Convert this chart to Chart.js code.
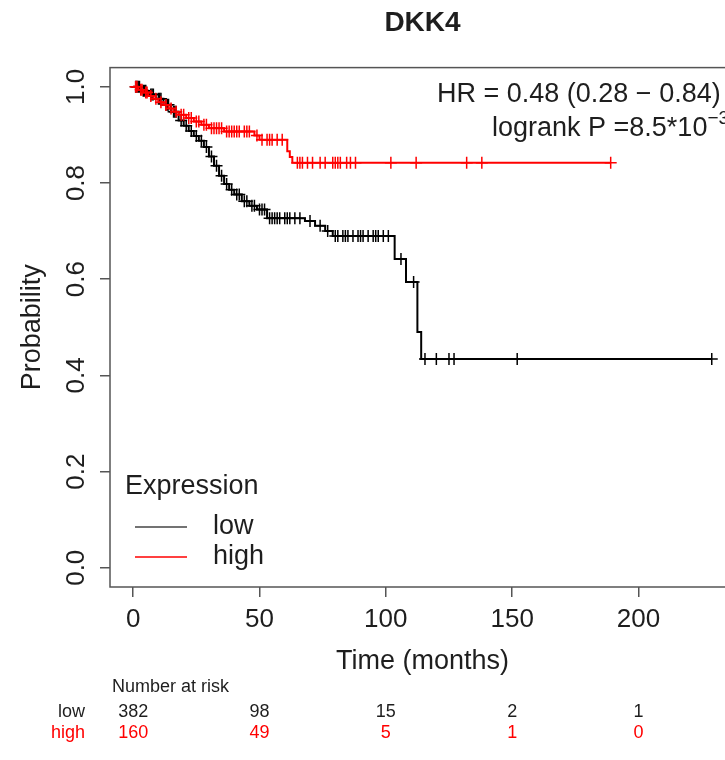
<!DOCTYPE html>
<html>
<head>
<meta charset="utf-8">
<script src="https://cdn.jsdelivr.net/npm/chart.js@4.4.0/dist/chart.umd.min.js"></script>
<style>
  html, body { margin: 0; padding: 0; background: #fff; overflow: hidden; }
  canvas { display: block; }
</style>
</head>
<body>
<canvas id="km" width="745" height="760"></canvas>
<script>

const TITULO = 'DKK4'
const xTicks = [0, 50, 100, 150, 200]
const yTicks = [0, 0.2, 0.4, 0.6, 0.8, 1.0]
const yTickLabels = ['0.0', '0.2', '0.4', '0.6', '0.8', '1.0']

// curva "low" (negra): tiempos de cada escalon y supervivencia
const lowTimes = [0, 3, 6, 9, 12, 15, 18, 20, 22, 24, 26, 28, 30, 32, 34, 36, 38, 40, 43, 46, 49, 53, 68, 72, 76, 79, 103.5, 108, 112.5, 114, 229]
const lowSurv = [1, 0.992, 0.984, 0.975, 0.963, 0.948, 0.93, 0.919, 0.908, 0.898, 0.888, 0.875, 0.855, 0.836, 0.815, 0.798, 0.786, 0.776, 0.762, 0.753, 0.745, 0.727, 0.721, 0.711, 0.700, 0.690, 0.642, 0.594, 0.490, 0.434, 0.434]

// curva "high" (roja)
const highTimes = [0, 2, 4, 6, 8, 10, 12, 14, 16, 18, 21, 24, 27, 30, 36, 48, 50, 61, 62, 63, 189]
const highSurv = [1, 0.994, 0.988, 0.981, 0.975, 0.968, 0.962, 0.955, 0.948, 0.942, 0.935, 0.928, 0.921, 0.914, 0.907, 0.899, 0.890, 0.866, 0.854, 0.842, 0.842]

// censurados (marcas +)
const lowCensTimes = [1, 1.5, 2, 2.5, 4, 4.5, 5, 7, 7.5, 8, 10, 10.5, 11, 13, 13.5, 14, 16, 16.5, 17, 19, 21, 23, 25, 27, 29, 31, 33, 35, 37, 39, 41, 42, 44, 45, 47, 48, 50, 51, 52, 54, 55, 56, 57, 58, 60, 61, 62, 64, 66, 70, 74, 77, 80, 81, 83, 84, 85, 87, 89, 90, 91, 93, 95, 96, 97, 99, 101, 106, 111, 115.5, 120, 125, 127, 152, 229]
const lowCensSurv = [1, 1, 1, 1, 0.992, 0.992, 0.992, 0.984, 0.984, 0.984, 0.975, 0.975, 0.975, 0.963, 0.963, 0.963, 0.948, 0.948, 0.948, 0.93, 0.919, 0.908, 0.898, 0.888, 0.875, 0.855, 0.836, 0.815, 0.798, 0.786, 0.776, 0.776, 0.762, 0.762, 0.753, 0.753, 0.745, 0.745, 0.745, 0.727, 0.727, 0.727, 0.727, 0.727, 0.727, 0.727, 0.727, 0.727, 0.727, 0.721, 0.711, 0.700, 0.690, 0.690, 0.690, 0.690, 0.690, 0.690, 0.690, 0.690, 0.690, 0.690, 0.690, 0.690, 0.690, 0.690, 0.690, 0.642, 0.594, 0.434, 0.434, 0.434, 0.434, 0.434, 0.434]

const highCensTimes = [1, 1.5, 3, 3.5, 5, 5.5, 7, 9, 11, 13, 15, 17, 19, 20, 22, 23, 25, 26, 28, 29, 31, 32, 33, 34, 35, 37, 38, 39, 40, 41, 42, 44, 45, 46, 49, 51, 53, 54, 55, 57, 59, 65, 66, 67, 69, 71, 74, 76, 79, 80, 81, 82, 84.5, 86, 88, 102, 112, 132, 138, 189]
const highCensSurv = [1, 1, 0.994, 0.994, 0.988, 0.988, 0.981, 0.975, 0.968, 0.962, 0.955, 0.948, 0.942, 0.942, 0.935, 0.935, 0.928, 0.928, 0.921, 0.921, 0.914, 0.914, 0.914, 0.914, 0.914, 0.907, 0.907, 0.907, 0.907, 0.907, 0.907, 0.907, 0.907, 0.907, 0.899, 0.890, 0.890, 0.890, 0.890, 0.890, 0.890, 0.842, 0.842, 0.842, 0.842, 0.842, 0.842, 0.842, 0.842, 0.842, 0.842, 0.842, 0.842, 0.842, 0.842, 0.842, 0.842, 0.842, 0.842, 0.842]

// numero en riesgo
const riskTimes = [0, 50, 100, 150, 200]
const riskLow = [382, 98, 15, 2, 1]
const riskHigh = [160, 49, 5, 1, 0]

const FUENTE = '"Liberation Sans", Arial, sans-serif'
const NEGRO = '#000000'
const ROJO = '#ff0000'
const TEXTO = '#1e1e1e'

const puntos = (xs, ys) => xs.map((t, i) => ({ x: t, y: ys[i] }))

const anotaciones = {
    id: 'anotaciones',
    afterDraw(chart) {
        const { ctx, chartArea: ca, scales: { x } } = chart
        ctx.save()

        // caja del grafico
        ctx.strokeStyle = '#555'
        ctx.lineWidth = 1.5
        ctx.strokeRect(ca.left, ca.top, ca.right - ca.left, ca.bottom - ca.top)

        ctx.fillStyle = TEXTO
        ctx.textBaseline = 'middle'
        ctx.textAlign = 'left'
        ctx.font = '27px ' + FUENTE
        ctx.fillText('HR = 0.48 (0.28 \u2212 0.84)', 437, 95)
        const base = 'logrank P =8.5*10'
        ctx.fillText(base, 492, 129)
        const w = ctx.measureText(base).width
        ctx.font = '19px ' + FUENTE
        ctx.fillText('\u22123', 492 + w, 119)

        // leyenda
        ctx.font = '27px ' + FUENTE
        ctx.fillText('Expression', 125, 487)
        ctx.fillText('low', 213, 527)
        ctx.fillText('high', 213, 557)
        ctx.lineWidth = 1.5
        ctx.strokeStyle = '#444'
        ctx.beginPath(); ctx.moveTo(135, 527); ctx.lineTo(187, 527); ctx.stroke()
        ctx.strokeStyle = ROJO
        ctx.beginPath(); ctx.moveTo(135, 557); ctx.lineTo(187, 557); ctx.stroke()

        // tabla numero en riesgo
        ctx.font = '18px ' + FUENTE
        ctx.fillStyle = TEXTO
        ctx.fillText('Number at risk', 112, 687)
        ctx.textAlign = 'right'
        ctx.fillText('low', 85, 712)
        ctx.fillStyle = ROJO
        ctx.fillText('high', 85, 733)
        ctx.textAlign = 'center'
        riskTimes.forEach((t, i) => {
            const px = x.getPixelForValue(t)
            ctx.fillStyle = TEXTO
            ctx.fillText(String(riskLow[i]), px, 712)
            ctx.fillStyle = ROJO
            ctx.fillText(String(riskHigh[i]), px, 733)
        })
        ctx.restore()
    }
}

const lineaBase = {
    pointRadius: 0,
    borderWidth: 2,
    stepped: true,
    fill: false,
    tension: 0
}

const marcas = {
    showLine: false,
    pointStyle: 'cross',
    pointRadius: 6,
    pointBorderWidth: 1.5
}

const ctx = document.getElementById('km')
const myChart = new Chart(ctx, {
    type: 'line',
    data: {
        datasets: [
            Object.assign({ label: 'high', data: puntos(highTimes, highSurv), borderColor: ROJO }, lineaBase),
            Object.assign({ label: 'high censor', data: puntos(highCensTimes, highCensSurv), pointBorderColor: ROJO, borderColor: ROJO }, marcas),
            Object.assign({ label: 'low', data: puntos(lowTimes, lowSurv), borderColor: NEGRO }, lineaBase),
            Object.assign({ label: 'low censor', data: puntos(lowCensTimes, lowCensSurv), pointBorderColor: NEGRO, borderColor: NEGRO }, marcas)
        ]
    },
    options: {
        responsive: false,
        animation: false,
        devicePixelRatio: 1,
        layout: { padding: { left: 0, right: 10, top: 0, bottom: 0 } },
        plugins: {
            legend: { display: false },
            tooltip: { enabled: false },
            title: {
                display: true,
                text: TITULO,
                fullSize: false,
                color: TEXTO,
                font: { family: FUENTE, size: 28, weight: 'bold' },
                padding: { top: 6, bottom: 28 }
            }
        },
        scales: {
            x: {
                type: 'linear',
                min: -9.16,
                max: 238.2,
                afterBuildTicks: s => { s.ticks = xTicks.map(v => ({ value: v })) },
                afterFit: s => { s.height = 173 },
                ticks: {
                    color: TEXTO,
                    padding: 7,
                    font: { family: FUENTE, size: 26 },
                    callback: v => String(v)
                },
                grid: { display: true, drawOnChartArea: false, drawTicks: true, tickLength: 10, color: '#555', lineWidth: 1.5 },
                border: { display: false },
                title: {
                    display: true,
                    text: 'Time (months)',
                    color: TEXTO,
                    font: { family: FUENTE, size: 27 },
                    padding: { top: 0, bottom: 82 }
                }
            },
            y: {
                type: 'linear',
                min: -0.04,
                max: 1.04,
                afterBuildTicks: s => { s.ticks = yTicks.map(v => ({ value: v })) },
                afterFit: s => { s.width = 110 },
                ticks: {
                    color: TEXTO,
                    padding: 5,
                    minRotation: 90,
                    maxRotation: 90,
                    crossAlign: 'center',
                    font: { family: FUENTE, size: 26 },
                    callback: (v, i) => yTickLabels[i]
                },
                grid: { display: true, drawOnChartArea: false, drawTicks: true, tickLength: 10, color: '#555', lineWidth: 1.5 },
                border: { display: false },
                title: {
                    display: true,
                    text: 'Probability',
                    color: TEXTO,
                    font: { family: FUENTE, size: 27 },
                    padding: { top: 16, bottom: 0 }
                }
            }
        }
    },
    plugins: [anotaciones]
})

</script>
</body>
</html>
